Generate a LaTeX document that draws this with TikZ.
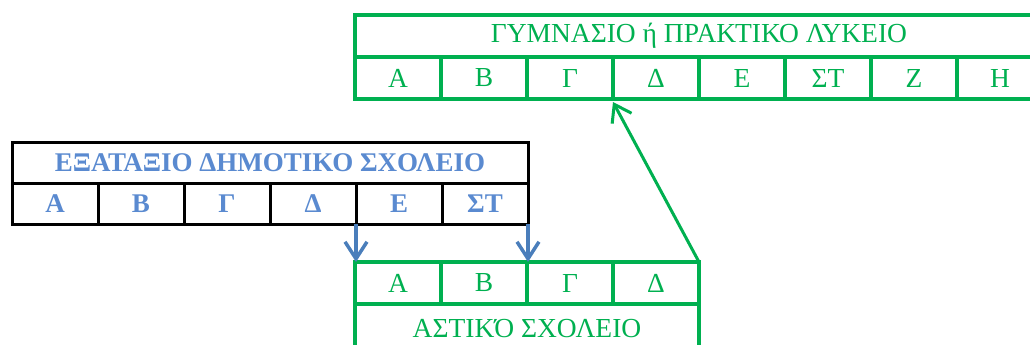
\documentclass[tikz,border=0pt]{standalone}
\usepackage{fontspec}
\setmainfont{Liberation Serif}
\usepackage{xcolor}
\usetikzlibrary{arrows.meta, positioning}

\definecolor{schoolgreen}{HTML}{00B050}
\definecolor{primblue}{HTML}{5A8AD0}
\definecolor{arrowblue}{HTML}{4A7EBB}

\begin{document}
\begin{tikzpicture}[
                x=1pt, y=-1pt,
                gcell/.style={draw=schoolgreen, line width=4pt, outer sep=0pt, minimum width=86pt, minimum height=42pt, inner sep=0pt, text=schoolgreen, font=\fontsize{27.5}{28}\selectfont},
                bcell/.style={draw=black, line width=3pt, outer sep=0pt, minimum width=86pt, minimum height=41pt, inner sep=0pt, text=primblue, font=\fontsize{27}{28}\selectfont\bfseries},
                bluearrow/.style={draw=arrowblue, line width=3.5pt, -{Straight Barb[length=17pt, width=22pt]}},
                greenarrow/.style={draw=schoolgreen, line width=3pt, -{Straight Barb[length=16pt, width=22pt]}}
            ]
            \useasboundingbox (0,0) rectangle (1030,345);

            % Gymnasio / lykeio (top)
            \node[gcell, minimum width=688pt] (gtitle) at (699,36) {ΓΥΜΝΑΣΙΟ ή ΠΡΑΚΤΙΚΟ ΛΥΚΕΙΟ};
            \node[gcell] (ga) at (398,78) {Α};
            \node[gcell] (gb) at (484,78) {Β};
            \node[gcell] (gc) at (570,78) {Γ};
            \node[gcell] (gd) at (656,78) {Δ};
            \node[gcell] (ge) at (742,78) {Ε};
            \node[gcell] (gst) at (828,78) {ΣΤ};
            \node[gcell] (gz) at (914,78) {Ζ};
            \node[gcell] (gh) at (1000,78) {Η};

            % Dimotiko (left)
            \node[bcell, minimum width=516pt] (ptitle) at (270,162.5) {ΕΞΑΤΑΞΙΟ ΔΗΜΟΤΙΚΟ ΣΧΟΛΕΙΟ};
            \node[bcell] (pa) at (55,203.5) {Α};
            \node[bcell] (pb) at (141,203.5) {Β};
            \node[bcell] (pc) at (227,203.5) {Γ};
            \node[bcell] (pd) at (313,203.5) {Δ};
            \node[bcell] (pe) at (399,203.5) {Ε};
            \node[bcell] (pst) at (485,203.5) {ΣΤ};

            % Astiko (bottom)
            \node[gcell] (aa) at (398,283) {Α};
            \node[gcell] (ab) at (484,283) {Β};
            \node[gcell] (ac) at (570,283) {Γ};
            \node[gcell] (ad) at (656,283) {Δ};
            \node[gcell, minimum width=344pt, minimum height=50pt] (atitle) at (527,329) {ΑΣΤΙΚΌ ΣΧΟΛΕΙΟ};

            % Connections
            \draw[bluearrow] (pe.south west) -- (pe.south west |- aa.north);
            \draw[bluearrow] (pst.south east) -- (pst.south east |- ab.north);
            \draw[greenarrow] (ad.north east) -- ([yshift=-3pt]gd.south west);
        \end{tikzpicture}
\end{document}
